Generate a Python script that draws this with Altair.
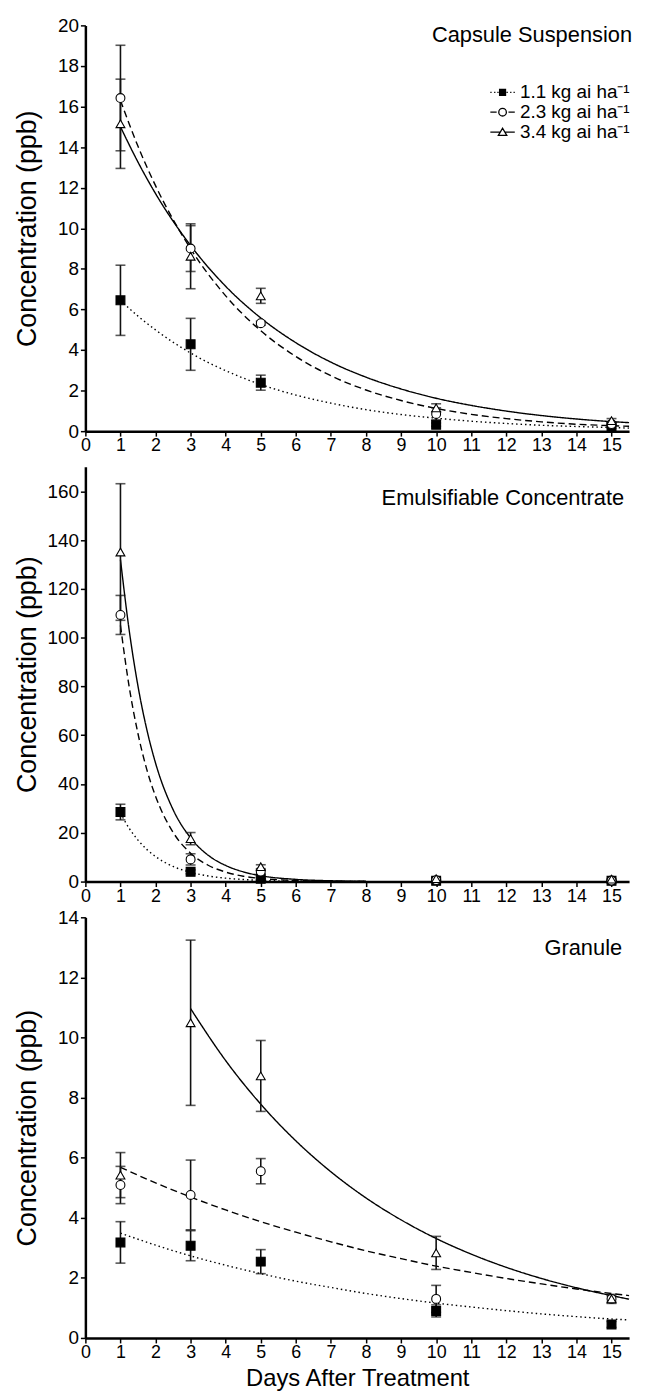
import altair as alt
import pandas as pd

FONT = "Liberation Sans, Arial, Helvetica, sans-serif"

# ---------------- data ----------------
DAYS = [1, 3, 5, 10, 15]
DOSES = ["1.1 kg ai ha\u207b\u00b9", "2.3 kg ai ha\u207b\u00b9", "3.4 kg ai ha\u207b\u00b9"]
DOSE_CODES = ["1.1", "2.3", "3.4"]
PANEL_NAMES = ["Capsule Suspension", "Emulsifiable Concentrate", "Granule"]
X_TICKS = list(range(16))

# Capsule Suspension: means and error (+/-)
cs_mean_11 = [6.45, 4.28, 2.39, 0.32, 0.20]
cs_err_11 = [1.73, 1.28, 0.37, 0.08, 0.05]
cs_mean_23 = [16.42, 9.00, 5.32, 0.85, 0.35]
cs_err_23 = [2.60, 1.13, 0.10, 0.30, 0.10]
cs_mean_34 = [15.15, 8.62, 6.67, 1.15, 0.52]
cs_err_34 = [2.20, 1.60, 0.37, 0.20, 0.10]

# Emulsifiable Concentrate
ec_mean_11 = [28.5, 4.0, 1.2, 0.3, 0.3]
ec_err_11 = [3.2, 0.8, 0.5, 0.1, 0.1]
ec_mean_23 = [109.3, 9.1, 4.1, 0.6, 0.4]
ec_err_23 = [8.0, 2.3, 0.8, 0.1, 0.1]
ec_mean_34 = [135.1, 17.6, 6.1, 1.2, 1.0]
ec_err_34 = [28.0, 2.5, 0.8, 0.3, 0.2]

# Granule
gr_mean_11 = [3.18, 3.07, 2.54, 0.90, 0.45]
gr_err_11 = [0.69, 0.50, 0.40, 0.20, 0.10]
gr_mean_23 = [5.09, 4.76, 5.55, 1.30, 1.30]
gr_err_23 = [0.62, 1.16, 0.42, 0.45, 0.10]
gr_mean_34 = [5.42, 10.49, 8.72, 2.83, 1.30]
gr_err_34 = [0.75, 2.75, 1.18, 0.55, 0.15]

# fitted curves
cs_t = [1, 1.5, 2, 3, 4, 5, 6, 7, 8, 9, 10, 11, 12, 13, 14, 15, 15.5]
cs_fit_11 = [6.45, 5.67, 4.99, 3.85, 2.98, 2.30, 1.78, 1.38, 1.06, 0.82, 0.64, 0.49, 0.38, 0.29, 0.23, 0.18, 0.15]
cs_fit_23 = [16.3, 14.04, 12.10, 8.99, 6.67, 4.95, 3.68, 2.73, 2.03, 1.51, 1.12, 0.83, 0.62, 0.46, 0.34, 0.27, 0.24]
cs_fit_34 = [15.0, 13.26, 11.71, 9.15, 7.14, 5.58, 4.36, 3.40, 2.66, 2.08, 1.62, 1.27, 0.99, 0.77, 0.60, 0.47, 0.42]

ec_t = [1, 1.25, 1.5, 1.75, 2, 2.5, 3, 3.5, 4, 4.5, 5, 6, 7, 8]
ec_fit_11 = [28.0, 21.8, 17.0, 13.2, 10.3, 6.2, 3.8, 2.3, 1.4, 0.85, 0.5, 0.19, 0.07, 0.03]
ec_fit_23 = [105.0, 79.7, 60.6, 46.0, 35.0, 20.2, 11.6, 6.7, 3.9, 2.2, 1.3, 0.43, 0.14, 0.05]
ec_fit_34 = [132.0, 102.9, 80.1, 62.4, 48.6, 29.5, 17.9, 10.8, 6.6, 4.0, 2.4, 0.9, 0.33, 0.12]

gr_t_low = [1, 2, 3, 4, 5, 6, 7, 8, 9, 10, 11, 12, 13, 14, 15, 15.5]
gr_fit_11 = [3.49, 3.09, 2.73, 2.42, 2.14, 1.89, 1.68, 1.48, 1.31, 1.16, 1.03, 0.91, 0.80, 0.71, 0.63, 0.60]
gr_fit_23 = [5.68, 5.16, 4.69, 4.26, 3.87, 3.52, 3.20, 2.90, 2.64, 2.39, 2.18, 1.98, 1.80, 1.63, 1.48, 1.41]
gr_t_high = [3, 4, 5, 6, 7, 8, 9, 10, 11, 12, 13, 14, 15, 15.5]
gr_fit_34 = [10.96, 9.23, 7.78, 6.56, 5.53, 4.66, 3.93, 3.31, 2.79, 2.35, 1.98, 1.67, 1.41, 1.29]

# ---------------- styles ----------------
DASHES = [[1.5, 3], [7, 4], [1, 0]]
SHAPES = ["square", "circle", "triangle-up"]
FILLS = ["black", "white", "white"]
# legend symbols: line style + marker drawn as one stroked symbol path
LEGEND_SYMBOLS = [
    "M-1.45,0h0.15M-1.0,0h0.15M-0.62,0h0.15"
    "M-0.35,-0.35H0.35V0.35H-0.35Z"
    "M-0.35,-0.23H0.35M-0.35,-0.11H0.35M-0.35,0H0.35M-0.35,0.11H0.35M-0.35,0.23H0.35"
    "M0.47,0h0.15M0.9,0h0.15M1.3,0h0.15",
    "M-1.45,0H-0.7M-0.45,0A0.45,0.45 0 1,1 0.45,0A0.45,0.45 0 1,1 -0.45,0ZM0.7,0H1.45",
    "M-1.45,0H-0.27M-0.5,0.4L0,-0.45L0.5,0.4ZM0.27,0H1.45",
]
W = 548


def build_points(means, errs):
    rows = []
    for code, m_list, e_list in zip(DOSE_CODES, means, errs):
        for d, m, e in zip(DAYS, m_list, e_list):
            rows.append({"day": d, "mean": m, "lo": max(m - e, 0), "hi": m + e, "dose_pt": code})
    return pd.DataFrame(rows)


def build_curves(ts, vals):
    rows = []
    for dose, t_list, v_list in zip(DOSES, ts, vals):
        for t, v in zip(t_list, v_list):
            rows.append({"t": t, "v": v, "dose": dose})
    return pd.DataFrame(rows)


def panel(name, means, errs, ts, vals, ydom, yticks, height, tpad, legend, xtitle, tx, ty):
    pts = build_points(means, errs)
    crv = build_curves(ts, vals)
    xscale = alt.Scale(domain=[0, 15.5], nice=False)
    yscale = alt.Scale(domain=ydom, nice=False)
    xaxis = alt.Axis(values=X_TICKS, title=xtitle if xtitle else None, labelFontSize=18,
                     tickSize=5, labelPadding=1, titleFontSize=24, titlePadding=5,
                     labelFlush=False)
    yaxis = alt.Axis(values=yticks, title="Concentration (ppb)", labelFontSize=19,
                     tickSize=5, labelPadding=2, titleFontSize=27, titlePadding=tpad)

    def X(field):
        return alt.X(field, scale=xscale, axis=xaxis, title=xtitle if xtitle else None)

    def Y(field):
        return alt.Y(field, scale=yscale, axis=yaxis, title="Concentration (ppb)")

    lines = alt.Chart(crv).mark_line(color="black", strokeWidth=1.4, interpolate="monotone").encode(
        x=X("t:Q"),
        y=Y("v:Q"),
        strokeDash=alt.StrokeDash("dose:N", scale=alt.Scale(domain=DOSES, range=DASHES), legend=None),
        detail="dose:N",
    )
    bars = alt.Chart(pts).mark_rule(color="#111", strokeWidth=1.6).encode(
        x=X("day:Q"),
        y=Y("lo:Q"),
        y2="hi:Q",
    )
    cap_lo = alt.Chart(pts).mark_tick(color="#111", orient="horizontal", size=10, thickness=1.6).encode(
        x=X("day:Q"),
        y=Y("lo:Q"),
    )
    cap_hi = alt.Chart(pts).mark_tick(color="#111", orient="horizontal", size=10, thickness=1.6).encode(
        x=X("day:Q"),
        y=Y("hi:Q"),
    )
    marks = alt.Chart(pts).mark_point(stroke="black", strokeWidth=1.1, opacity=1, size=80).encode(
        x=X("day:Q"),
        y=Y("mean:Q"),
        shape=alt.Shape("dose_pt:N", scale=alt.Scale(domain=DOSE_CODES, range=SHAPES), legend=None),
        fill=alt.Fill("dose_pt:N", scale=alt.Scale(domain=DOSE_CODES, range=FILLS), legend=None),
    )
    label = alt.Chart(pd.DataFrame({"name": [name]})).mark_text(
        align="right", baseline="middle", fontSize=22, font=FONT, color="black"
    ).encode(text="name:N", x=alt.value(tx), y=alt.value(ty))

    layers = [lines, bars, cap_lo, cap_hi, marks, label]

    if legend:
        leg = alt.Legend(orient="none", legendX=411, legendY=58, title=None,
                         symbolSize=289, symbolStrokeWidth=1.3, symbolStrokeColor="black",
                         symbolFillColor="transparent",
                         labelFontSize=19, labelFont=FONT, labelColor="black",
                         rowPadding=0, padding=0, labelOffset=8)
        key = alt.Chart(crv).transform_filter("false").mark_point(
            filled=False, color="black", opacity=1, strokeWidth=1.3, size=289
        ).encode(
            x=X("t:Q"),
            y=Y("v:Q"),
            shape=alt.Shape("dose:N", scale=alt.Scale(domain=DOSES, range=LEGEND_SYMBOLS), legend=leg),
        )
        layers.append(key)

    return alt.layer(*layers).resolve_scale(
        shape="independent"
    ).properties(width=W, height=height)


p1 = panel(PANEL_NAMES[0], [cs_mean_11, cs_mean_23, cs_mean_34], [cs_err_11, cs_err_23, cs_err_34],
           [cs_t, cs_t, cs_t], [cs_fit_11, cs_fit_23, cs_fit_34], [0, 20], list(range(0, 21, 2)),
           409, 16.6, True, None, 551, 9.5)
p2 = panel(PANEL_NAMES[1], [ec_mean_11, ec_mean_23, ec_mean_34], [ec_err_11, ec_err_23, ec_err_34],
           [ec_t, ec_t, ec_t], [ec_fit_11, ec_fit_23, ec_fit_34], [0, 170], list(range(0, 161, 20)),
           418, 6, False, None, 543, 31.5)
p3 = panel(PANEL_NAMES[2], [gr_mean_11, gr_mean_23, gr_mean_34], [gr_err_11, gr_err_23, gr_err_34],
           [gr_t_low, gr_t_low, gr_t_high], [gr_fit_11, gr_fit_23, gr_fit_34], [0, 14], list(range(0, 15, 2)),
           424, 16.6, False, "Days After Treatment", 541, 30.5)

chart = alt.vconcat(p1, p2, p3, spacing=36, bounds="flush").resolve_scale(
    shape="independent", fill="independent", strokeDash="independent"
).resolve_legend(
    shape="independent", fill="independent", strokeDash="independent"
).properties(
    padding={"left": 5, "top": 3, "right": 5, "bottom": 2}
).configure_view(stroke=None).configure_axis(
    domainColor="black", domainWidth=2.5, tickColor="black", tickWidth=1.5,
    labelColor="black", titleColor="black", grid=False, labelFont=FONT, titleFont=FONT,
    titleFontWeight="normal"
).configure_legend(labelFont=FONT)

chart.save("out.html", embed_options={"renderer": "svg", "actions": False})
